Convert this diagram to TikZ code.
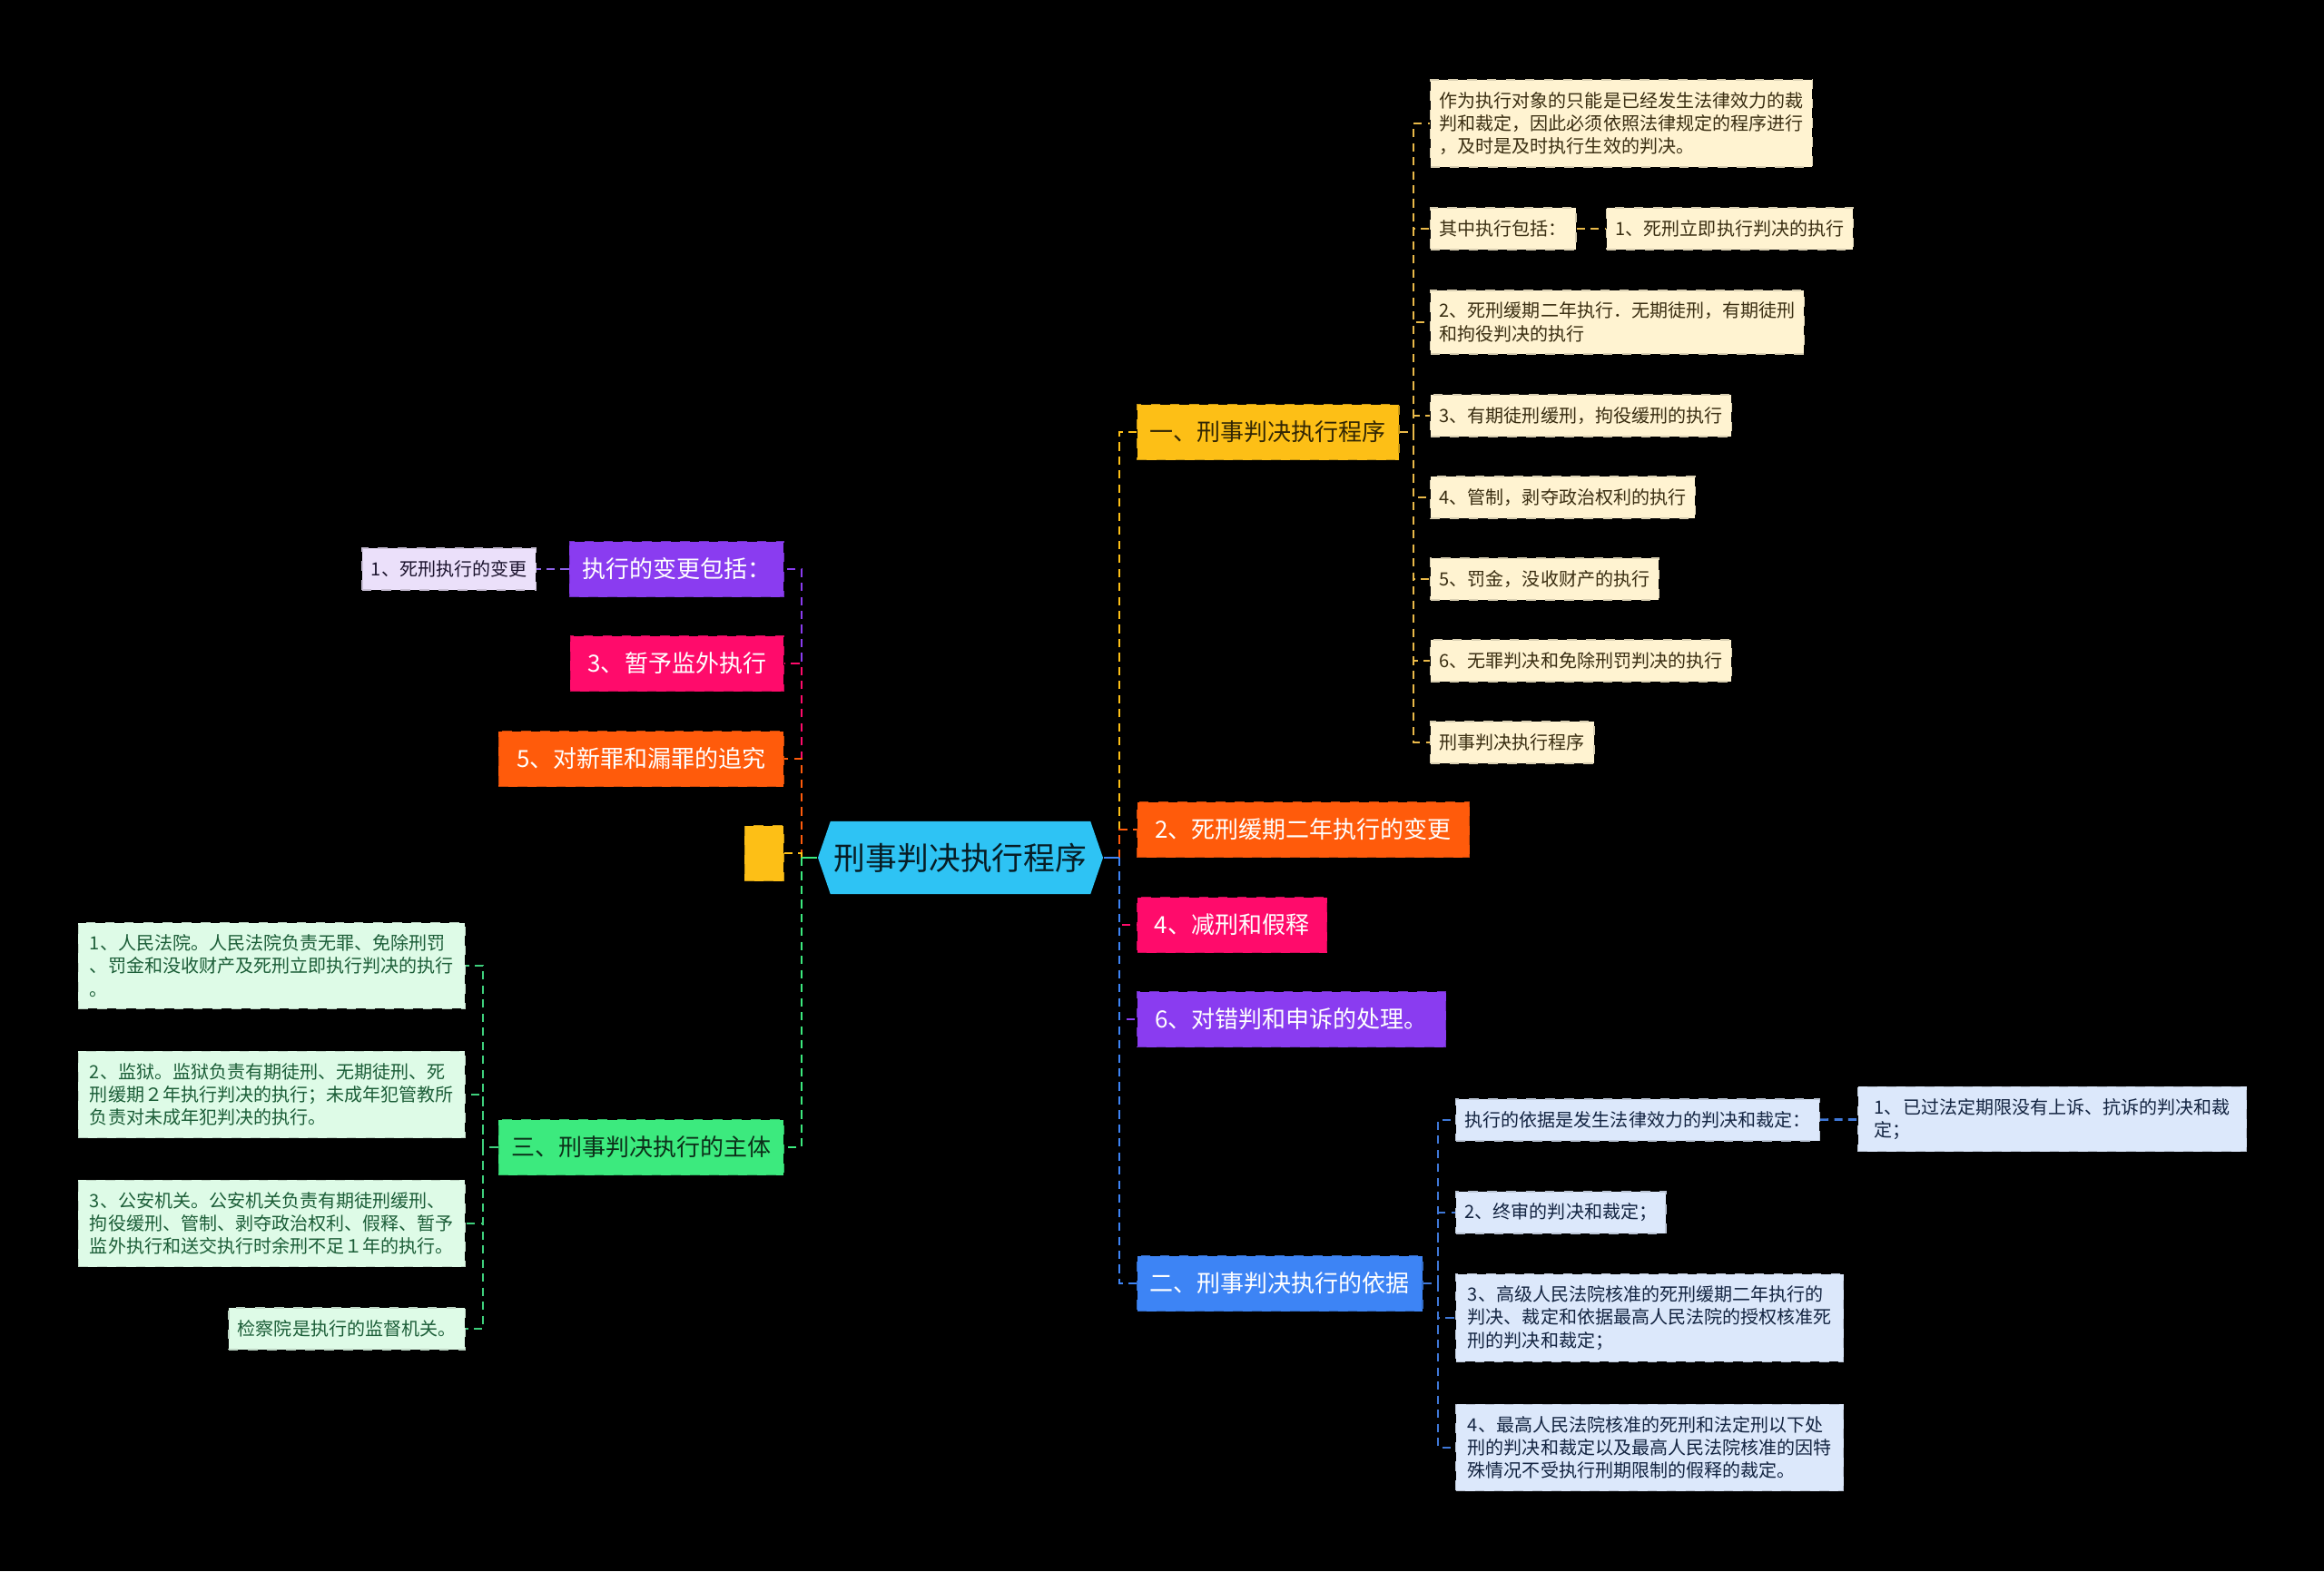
\documentclass[tikz,border=0pt]{standalone}
\usepackage{fontspec}
\setmainfont{Noto Sans CJK SC}
\usetikzlibrary{
	positioning,
	shapes.symbols
}

\definecolor{cSky}{HTML}{2EC3F4}
\definecolor{cGold}{HTML}{FDBF16}
\definecolor{cOrange}{HTML}{FF5B0B}
\definecolor{cPink}{HTML}{FF0B6B}
\definecolor{cPurple}{HTML}{8A3CF0}
\definecolor{cBlue}{HTML}{3D84F5}
\definecolor{cGreen}{HTML}{3CEA7E}
\definecolor{cCream}{HTML}{FFF3D1}
\definecolor{cLilac}{HTML}{EBE0FA}
\definecolor{cIce}{HTML}{DCE8FB}
\definecolor{cMint}{HTML}{DEFBE7}
\definecolor{cTan}{HTML}{E9B949}
\definecolor{cViolet}{HTML}{8E62E8}
\definecolor{cLeaf}{HTML}{3ED07C}
\definecolor{cNavy}{HTML}{3F78D8}

\begin{document}
\begin{tikzpicture}[
			topo/.style={signal, signal to=east and west, signal pointer angle=142, fill=cSky, text=black!85!cSky, font=\fontsize{9.9}{12}\selectfont, inner xsep=0.04cm, inner ysep=0.24cm},
			ramo/.style={draw=#1!80!black, dashed, fill=#1, text=white, font=\fontsize{7.4}{9}\selectfont, inner xsep=0.14cm, minimum height=0.61cm},
			folha/.style={draw=#1!85!black, dashed, fill=#1, font=\fontsize{5.7}{7.2}\selectfont, align=left, inner xsep=0.1cm, inner ysep=0.13cm, minimum height=0.46cm},
			fl/.style={draw=#1, dashed, line width=0.75pt, dash pattern=on 2.6pt off 1.8pt},
			liso/.style={draw=#1, line width=0.75pt}
		]

		\fill[black] (0,0) rectangle (25.60,-17.31);

		\node[topo] (raiz) at (10.58,-9.45) {刑事判决执行程序};

		\node[ramo=cGold, text=black!80!cGold, anchor=west] (d1) at (12.52,-4.76) {一、刑事判决执行程序};
		\node[ramo=cOrange, anchor=west, minimum width=3.66cm] (d2) at (12.52,-9.14) {2、死刑缓期二年执行的变更};
		\node[ramo=cPink, anchor=west, minimum width=2.09cm] (d3) at (12.52,-10.19) {4、减刑和假释};
		\node[ramo=cPurple, anchor=west, minimum width=3.40cm] (d4) at (12.52,-11.23) {6、对错判和申诉的处理。};
		\node[ramo=cBlue, anchor=west, minimum width=3.14cm] (d5) at (12.52,-14.14) {二、刑事判决执行的依据};

		\node[ramo=cPurple, anchor=east, minimum width=2.35cm] (e1) at (8.64,-6.27) {执行的变更包括：};
		\node[ramo=cPink, anchor=east, minimum width=2.35cm] (e2) at (8.64,-7.31) {3、暂予监外执行};
		\node[ramo=cOrange, anchor=east, minimum width=3.14cm] (e3) at (8.64,-8.36) {5、对新罪和漏罪的追究};
		\node[ramo=cGold, anchor=east, minimum width=0.43cm] (e4) at (8.64,-9.40) {};
		\node[ramo=cGreen, text=black!80!cGreen, anchor=east, minimum width=3.14cm] (e5) at (8.64,-12.64) {三、刑事判决执行的主体};

		\node[folha=cCream, text=black!75!cTan, anchor=west] (f1) at (15.75,-1.36) {作为执行对象的只能是已经发生法律效力的裁\\判和裁定，因此必须依照法律规定的程序进行\\，及时是及时执行生效的判决。};
		\node[folha=cCream, text=black!75!cTan, anchor=west] (f2) at (15.75,-2.52) {其中执行包括：};
		\node[folha=cCream, text=black!75!cTan, anchor=west] (f2a) at (17.69,-2.52) {1、死刑立即执行判决的执行};
		\node[folha=cCream, text=black!75!cTan, anchor=west] (f3) at (15.75,-3.55) {2、死刑缓期二年执行．无期徒刑，有期徒刑\\和拘役判决的执行};
		\node[folha=cCream, text=black!75!cTan, anchor=west] (f4) at (15.75,-4.58) {3、有期徒刑缓刑，拘役缓刑的执行};
		\node[folha=cCream, text=black!75!cTan, anchor=west] (f5) at (15.75,-5.48) {4、管制，剥夺政治权利的执行};
		\node[folha=cCream, text=black!75!cTan, anchor=west] (f6) at (15.75,-6.38) {5、罚金，没收财产的执行};
		\node[folha=cCream, text=black!75!cTan, anchor=west] (f7) at (15.75,-7.28) {6、无罪判决和免除刑罚判决的执行};
		\node[folha=cCream, text=black!75!cTan, anchor=west] (f8) at (15.75,-8.18) {刑事判决执行程序};

		\node[folha=cIce, text=black!70!cNavy, anchor=west] (b1) at (16.03,-12.34) {执行的依据是发生法律效力的判决和裁定：};
		\node[folha=cIce, text=black!70!cNavy, anchor=west, minimum width=4.28cm] (b1a) at (20.46,-12.33) {1、已过法定期限没有上诉、抗诉的判决和裁\\定；};
		\node[folha=cIce, text=black!70!cNavy, anchor=west] (b2) at (16.03,-13.36) {2、终审的判决和裁定；};
		\node[folha=cIce, text=black!70!cNavy, anchor=west, minimum width=4.27cm] (b3) at (16.03,-14.52) {3、高级人民法院核准的死刑缓期二年执行的\\判决、裁定和依据最高人民法院的授权核准死\\刑的判决和裁定；};
		\node[folha=cIce, text=black!70!cNavy, anchor=west, minimum width=4.27cm] (b4) at (16.03,-15.95) {4、最高人民法院核准的死刑和法定刑以下处\\刑的判决和裁定以及最高人民法院核准的因特\\殊情况不受执行刑期限制的假释的裁定。};

		\node[folha=cLilac, text=black!80!cViolet, anchor=east] (a1) at (5.91,-6.27) {1、死刑执行的变更};

		\node[folha=cMint, text=black!55!cLeaf, anchor=east, minimum width=4.26cm] (g1) at (5.13,-10.64) {1、人民法院。人民法院负责无罪、免除刑罚\\、罚金和没收财产及死刑立即执行判决的执行\\。};
		\node[folha=cMint, text=black!55!cLeaf, anchor=east, minimum width=4.26cm] (g2) at (5.13,-12.06) {2、监狱。监狱负责有期徒刑、无期徒刑、死\\刑缓期２年执行判决的执行；未成年犯管教所\\负责对未成年犯判决的执行。};
		\node[folha=cMint, text=black!55!cLeaf, anchor=east, minimum width=4.26cm] (g3) at (5.13,-13.48) {3、公安机关。公安机关负责有期徒刑缓刑、\\拘役缓刑、管制、剥夺政治权利、假释、暂予\\监外执行和送交执行时余刑不足１年的执行。};
		\node[folha=cMint, text=black!55!cLeaf, anchor=east] (g4) at (5.13,-14.64) {检察院是执行的监督机关。};

		\coordinate (rdir) at (12.33,-9.45);
		\coordinate (resq) at (8.83,-9.45);
		\coordinate (t1) at (15.57,-4.76);
		\coordinate (t5) at (15.84,-14.14);
		\coordinate (t3) at (5.32,-12.64);

		\draw[fl=cGold] (rdir) |- (d1.west);
		\draw[fl=cOrange] (rdir) |- (d2.west);
		\draw[fl=cPink] (rdir) |- (d3.west);
		\draw[fl=cPurple] (rdir) |- (d4.west);
		\draw[fl=cBlue] (rdir) |- (d5.west);
		\draw[liso=cBlue] (raiz.east) -- (rdir);

		\draw[fl=cPurple] (resq) |- (e1.east);
		\draw[fl=cPink] (resq) |- (e2.east);
		\draw[fl=cOrange] (resq) |- (e3.east);
		\draw[fl=cGold] (resq) |- (e4.east);
		\draw[fl=cGreen] (resq) |- (e5.east);
		\draw[liso=cGreen] (raiz.west) -- (resq);

		\draw[fl=cTan] (d1.east) -- (t1) |- (f1.west);
		\draw[fl=cTan] (t1) |- (f2.west);
		\draw[fl=cTan] (t1) |- (f3.west);
		\draw[fl=cTan] (t1) |- (f4.west);
		\draw[fl=cTan] (t1) |- (f5.west);
		\draw[fl=cTan] (t1) |- (f6.west);
		\draw[fl=cTan] (t1) |- (f7.west);
		\draw[fl=cTan] (t1) |- (f8.west);
		\draw[fl=cTan] (f2) -- (f2a);

		\draw[fl=cNavy] (d5.east) -- (t5) |- (b1.west);
		\draw[fl=cNavy] (t5) |- (b2.west);
		\draw[fl=cNavy] (t5) |- (b3.west);
		\draw[fl=cNavy] (t5) |- (b4.west);
		\draw[fl=cNavy] (b1) -- (b1a);

		\draw[fl=cViolet] (e1) -- (a1);

		\draw[fl=cLeaf] (e5.west) -- (t3) |- (g1.east);
		\draw[fl=cLeaf] (t3) |- (g2.east);
		\draw[fl=cLeaf] (t3) |- (g3.east);
		\draw[fl=cLeaf] (t3) |- (g4.east);
	\end{tikzpicture}
\end{document}
